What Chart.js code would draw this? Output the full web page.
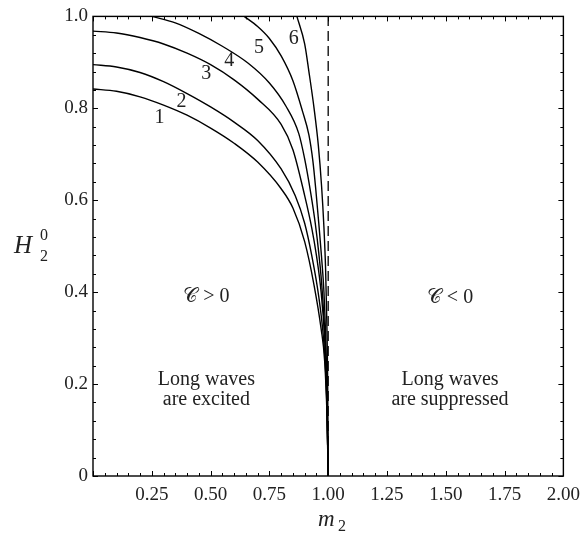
<!DOCTYPE html>
<html>
<head>
<meta charset="utf-8">
<script src="https://cdn.jsdelivr.net/npm/chart.js@4.4.1/dist/chart.umd.min.js"></script>
<style>
  html, body { margin: 0; padding: 0; background: #fff; }
  canvas { display: block; }
</style>
</head>
<body>
<canvas id="chart" width="588" height="544"></canvas>
<script>
// curves H2^0 vs m2
const m1 = [0, 0.1, 0.2, 0.3, 0.4, 0.5, 0.6, 0.7, 0.8, 0.85, 0.9, 0.94, 0.97, 0.985, 0.995, 1];
const h1 = [0.842, 0.837, 0.825, 0.807, 0.785, 0.757, 0.724, 0.683, 0.625, 0.583, 0.51, 0.415, 0.32, 0.25, 0.13, 0];

const m2 = [0, 0.1, 0.2, 0.3, 0.4, 0.5, 0.6, 0.7, 0.8, 0.86, 0.9, 0.93, 0.96, 0.98, 0.99, 0.996, 1];
const h2 = [0.895, 0.890, 0.878, 0.858, 0.832, 0.803, 0.77, 0.73, 0.668, 0.61, 0.55, 0.48, 0.39, 0.30, 0.22, 0.12, 0];

const m3 = [0, 0.1, 0.2, 0.3, 0.4, 0.5, 0.6, 0.7, 0.8, 0.85, 0.9, 0.93, 0.95, 0.97, 0.985, 0.993, 1];
const h3 = [0.968, 0.964, 0.954, 0.94, 0.92, 0.895, 0.862, 0.82, 0.765, 0.71, 0.61, 0.54, 0.48, 0.40, 0.30, 0.2, 0];

const m4 = [0.25, 0.35, 0.45, 0.55, 0.66, 0.75, 0.82, 0.875, 0.9, 0.926, 0.945, 0.96, 0.975, 0.988, 0.995, 1];
const h4 = [1.0, 0.986, 0.963, 0.935, 0.898, 0.855, 0.805, 0.745, 0.69, 0.615, 0.55, 0.485, 0.40, 0.28, 0.15, 0];

const m5 = [0.643, 0.7, 0.75, 0.8, 0.85, 0.89, 0.918, 0.935, 0.947, 0.96, 0.972, 0.982, 0.99, 0.996, 1];
const h5 = [1.0, 0.978, 0.952, 0.914, 0.86, 0.795, 0.742, 0.685, 0.625, 0.55, 0.475, 0.40, 0.29, 0.16, 0];

const m6 = [0.867, 0.9, 0.918, 0.94, 0.958, 0.972, 0.982, 0.989, 0.994, 0.998, 1];
const h6 = [1.0, 0.94, 0.88, 0.80, 0.72, 0.63, 0.54, 0.45, 0.34, 0.19, 0];

const curves = [[m1, h1], [m2, h2], [m3, h3], [m4, h4], [m5, h5], [m6, h6]];

// curve numbers and where they sit (m2, H2^0)
const curveNames = ['1', '2', '3', '4', '5', '6'];
const curveNameM = [0.283, 0.376, 0.482, 0.579, 0.706, 0.854];
const curveNameH = [0.779, 0.815, 0.876, 0.903, 0.931, 0.951];

const xTicks = [0.25, 0.5, 0.75, 1, 1.25, 1.5, 1.75, 2];
const yTicks = [0, 0.2, 0.4, 0.6, 0.8, 1];

const serif = "'Liberation Serif', 'DejaVu Serif', serif";
const ink = '#222';

const datasets = curves.map(([m, h]) => ({
  data: m.map((x, i) => ({ x: x, y: h[i] })),
  borderColor: '#000',
  borderWidth: 1.4,
  pointRadius: 0,
  showLine: true,
  cubicInterpolationMode: 'monotone',
  fill: false
}));

// m2 = 1 boundary
datasets.push({
  data: [{ x: 1, y: 0 }, { x: 1, y: 1 }],
  borderColor: '#000',
  borderWidth: 1.3,
  borderDash: [10, 5],
  pointRadius: 0,
  showLine: true,
  fill: false
});

const decor = {
  id: 'decor',
  afterDatasetsDraw(chart) {
    const { ctx, chartArea: a, scales: { x, y } } = chart;
    ctx.save();
    ctx.strokeStyle = '#000';
    ctx.lineWidth = 1.4;
    ctx.strokeRect(a.left, a.top, a.right - a.left, a.bottom - a.top);

    // inward ticks on all four sides
    ctx.lineWidth = 1;
    ctx.beginPath();
    for (let i = 0; i <= 40; i++) {
      const v = i * 0.05;
      const px = Math.round(x.getPixelForValue(v)) + 0.5;
      const len = i % 5 === 0 ? 5 : 3;
      ctx.moveTo(px, a.bottom); ctx.lineTo(px, a.bottom - len);
      ctx.moveTo(px, a.top); ctx.lineTo(px, a.top + len);
    }
    for (let i = 0; i <= 25; i++) {
      const v = i * 0.04;
      const py = Math.round(y.getPixelForValue(v)) + 0.5;
      const len = i % 5 === 0 ? 5 : 3;
      ctx.moveTo(a.left, py); ctx.lineTo(a.left + len, py);
      ctx.moveTo(a.right, py); ctx.lineTo(a.right - len, py);
    }
    ctx.stroke();

    ctx.fillStyle = ink;
    ctx.textAlign = 'center';
    ctx.textBaseline = 'middle';

    // curve numbers
    ctx.font = '20px ' + serif;
    curveNames.forEach((t, i) => {
      ctx.fillText(t, x.getPixelForValue(curveNameM[i]), y.getPixelForValue(curveNameH[i]));
    });

    // region notes
    const left = x.getPixelForValue(0.482);
    const right = x.getPixelForValue(1.518);
    ctx.font = '20px ' + serif;
    ctx.fillText('\u{1D49E} > 0', left, 297);
    ctx.fillText('\u{1D49E} < 0', right, 298);
    ctx.fillText('Long waves', left, 380);
    ctx.fillText('are excited', left, 400);
    ctx.fillText('Long waves', right, 380);
    ctx.fillText('are suppressed', right, 400);

    // axis titles
    ctx.font = 'italic 23px ' + serif;
    ctx.textAlign = 'left';
    ctx.fillText('m', 318, 520);
    ctx.font = 'italic 25px ' + serif;
    ctx.fillText('H', 14, 246);
    ctx.font = '16px ' + serif;
    ctx.fillText('2', 338, 527);
    ctx.fillText('0', 40, 236);
    ctx.fillText('2', 40, 257);
    ctx.restore();
  }
};

new Chart(document.getElementById('chart'), {
  type: 'scatter',
  data: { datasets: datasets },
  options: {
    responsive: false,
    animation: false,
    layout: { padding: { top: 10, right: 22, left: 0, bottom: 0 } },
    plugins: { legend: { display: false }, tooltip: { enabled: false } },
    scales: {
      x: {
        type: 'linear',
        min: 0,
        max: 2,
        afterBuildTicks: (s) => { s.ticks = [{ value: 0 }].concat(xTicks.map(v => ({ value: v }))); },
        afterFit: (s) => { s.height = 68; },
        ticks: {
          callback: (v) => v === 0 ? '' : v.toFixed(2),
          font: { family: serif, size: 19 },
          color: ink,
          padding: 8,
          maxRotation: 0,
          autoSkip: false
        },
        grid: { display: false, drawTicks: false },
        border: { display: false }
      },
      y: {
        type: 'linear',
        min: 0,
        max: 1,
        afterBuildTicks: (s) => { s.ticks = yTicks.map(v => ({ value: v })); },
        afterFit: (s) => { s.width = 93; },
        ticks: {
          callback: (v) => v === 0 ? '0' : v.toFixed(1),
          font: { family: serif, size: 19 },
          color: ink,
          padding: 5,
          autoSkip: false
        },
        grid: { display: false, drawTicks: false },
        border: { display: false }
      }
    }
  },
  plugins: [decor]
});
</script>
</body>
</html>
